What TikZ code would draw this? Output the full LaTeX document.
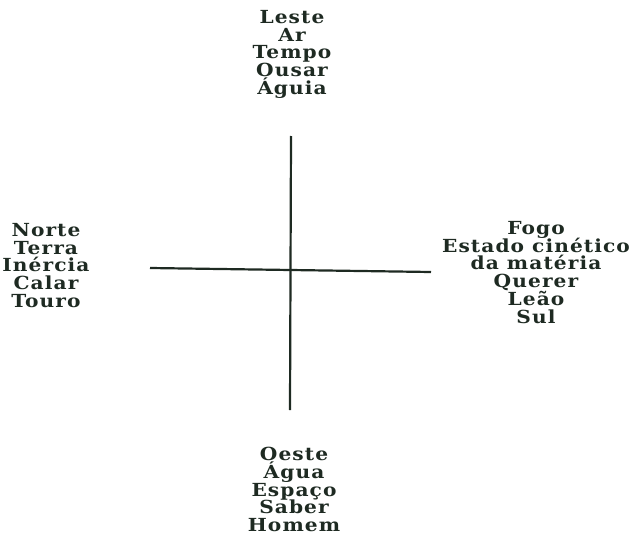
\documentclass[tikz,border=0pt]{standalone}
\usepackage{fontspec}
\setmainfont{DejaVu Serif}[LetterSpace=6, FakeStretch=1.12]
\usepackage{tikz}

\definecolor{ink}{HTML}{1E2A22}
\newcommand{\quadfont}{\fontsize{18}{17.8}\selectfont\bfseries\lineskiplimit=-20pt\relax}

\begin{document}
\begin{tikzpicture}[x=1pt, y=-1pt,
  quad/.style={font=\quadfont, align=center, text=ink, inner sep=0pt, anchor=north},
  axis/.style={draw=ink, line width=2.2pt}
]
\useasboundingbox (0,0) rectangle (632,543);

% the four quarters
\node[quad] (leste) at (292,10) {Leste\\Ar\\Tempo\\Ousar\\Águia};
\node[quad] (norte) at (46,223) {Norte\\Terra\\Inércia\\Calar\\Touro};
\node[quad] (fogo) at (536,221) {Fogo\\Estado cinético\\da matéria\\Querer\\Leão\\Sul};
\node[quad] (oeste) at (294,447) {Oeste\\Água\\Espaço\\Saber\\Homem};

% cross
\coordinate (vtop) at (291,136);
\coordinate (vbot) at (290,410);
\coordinate (hl) at (150,268);
\coordinate (hr) at (431,272);
\draw[axis] (vtop) -- (vbot);
\draw[axis] (hl) -- (hr);
\end{tikzpicture}
\end{document}
